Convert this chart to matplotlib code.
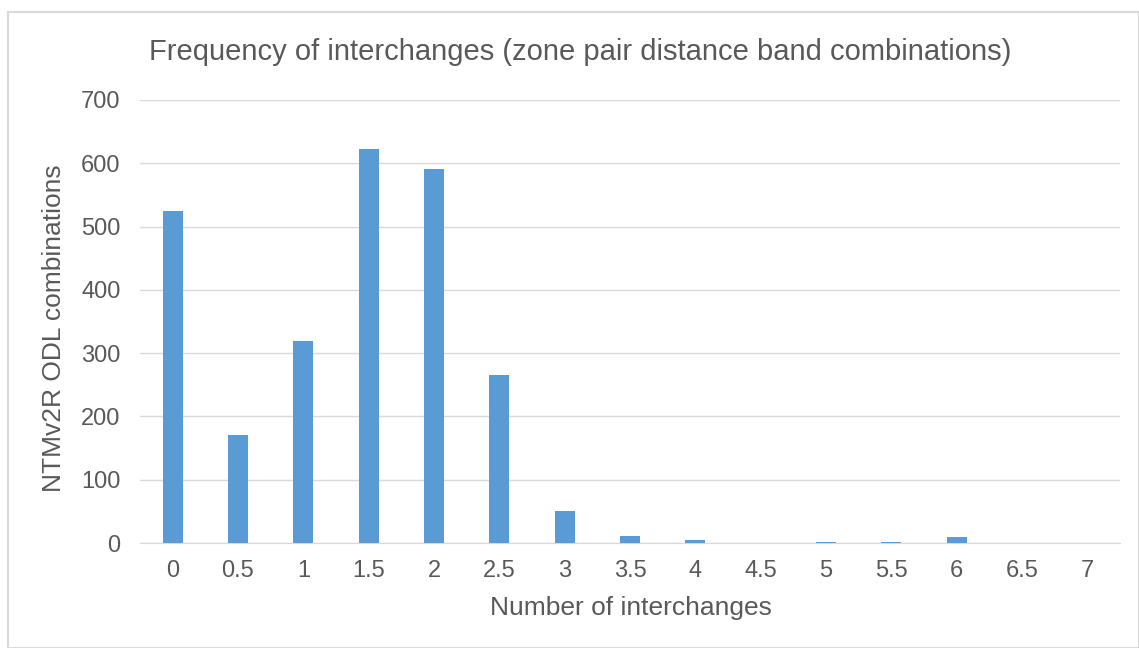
import matplotlib
matplotlib.use("Agg")
import matplotlib.pyplot as plt
from matplotlib.patches import Rectangle

# data
categories = ["0", "0.5", "1", "1.5", "2", "2.5", "3", "3.5", "4", "4.5", "5", "5.5", "6", "6.5", "7"]
counts = [524, 170, 319, 623, 591, 266, 51, 11, 4, 0, 2, 2, 9, 0, 0]
y_ticks = [0, 100, 200, 300, 400, 500, 600, 700]

plt.rcParams['font.family'] = ['Liberation Sans', 'DejaVu Sans']
text_col = '#595959'
W, H = 1139, 648

fig = plt.figure(figsize=(W / 100, H / 100), dpi=100)
# chart area border
fig.patches.append(Rectangle((8 / W, 0), 1 - 8 / W, 1 - 12 / H,
                             transform=fig.transFigure, fill=False,
                             edgecolor='#d9d9d9', linewidth=1.5))

ax = fig.add_axes([140 / W, 1 - 543 / H, 980 / W, 443 / H])
x = list(range(len(categories)))
ax.bar(x, counts, width=0.31, color='#5b9bd5', zorder=3)

ax.set_xlim(-0.5, len(categories) - 0.5)
ax.set_ylim(0, 700)
ax.set_yticks(y_ticks)
ax.set_xticks(x)
ax.set_xticklabels(categories)
ax.grid(axis='y', color='#d9d9d9', linewidth=1, zorder=0)
for side in ['top', 'right', 'left']:
    ax.spines[side].set_visible(False)
ax.spines['bottom'].set_color('#d9d9d9')
ax.tick_params(axis='both', length=0, labelsize=17, colors=text_col)
ax.tick_params(axis='x', pad=12)
ax.tick_params(axis='y', pad=14)

# axis titles and chart title
fig.text(631 / W, 1 - 608 / H, 'Number of interchanges',
         ha='center', va='center', fontsize=19, color=text_col)
fig.text(54 / W, 1 - 328 / H, 'NTMv2R ODL combinations', rotation=90,
         ha='center', va='center', fontsize=19, color=text_col)
fig.text(580 / W, 1 - 52 / H,
         'Frequency of interchanges (zone pair distance band combinations)',
         ha='center', va='center', fontsize=21, color=text_col)

fig.savefig('out.png', dpi=100)
